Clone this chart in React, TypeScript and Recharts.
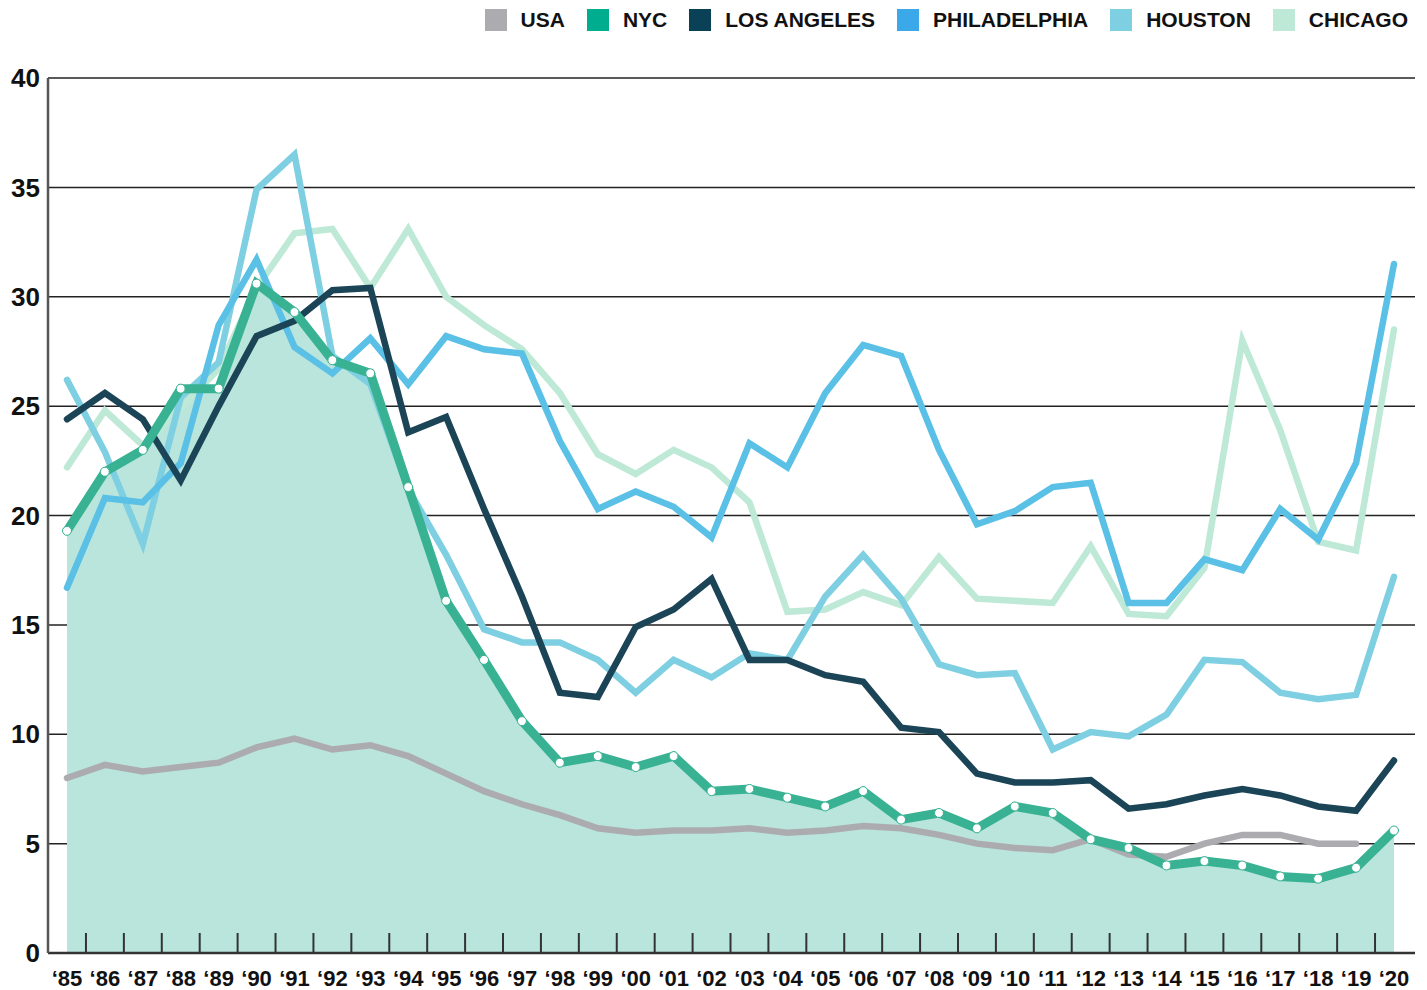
import {
  ComposedChart,
  Area,
  Line,
  XAxis,
  YAxis,
  CartesianGrid,
  Legend,
} from 'recharts';

const years = [
  '‘85', '‘86', '‘87', '‘88', '‘89', '‘90', '‘91', '‘92', '‘93', '‘94',
  '‘95', '‘96', '‘97', '‘98', '‘99', '‘00', '‘01', '‘02', '‘03', '‘04',
  '‘05', '‘06', '‘07', '‘08', '‘09', '‘10', '‘11', '‘12', '‘13', '‘14',
  '‘15', '‘16', '‘17', '‘18', '‘19', '‘20',
];

const usa = [
  8.0, 8.6, 8.3, 8.5, 8.7, 9.4, 9.8, 9.3, 9.5, 9.0,
  8.2, 7.4, 6.8, 6.3, 5.7, 5.5, 5.6, 5.6, 5.7, 5.5,
  5.6, 5.8, 5.7, 5.4, 5.0, 4.8, 4.7, 5.2, 4.5, 4.4,
  5.0, 5.4, 5.4, 5.0, 5.0, null,
];

const nyc = [
  19.3, 22.0, 23.0, 25.8, 25.8, 30.6, 29.3, 27.1, 26.5, 21.3,
  16.1, 13.4, 10.6, 8.7, 9.0, 8.5, 9.0, 7.4, 7.5, 7.1,
  6.7, 7.4, 6.1, 6.4, 5.7, 6.7, 6.4, 5.2, 4.8, 4.0,
  4.2, 4.0, 3.5, 3.4, 3.9, 5.6,
];

const losAngeles = [
  24.4, 25.6, 24.4, 21.6, 25.0, 28.2, 28.9, 30.3, 30.4, 23.8,
  24.5, 20.3, 16.3, 11.9, 11.7, 14.9, 15.7, 17.1, 13.4, 13.4,
  12.7, 12.4, 10.3, 10.1, 8.2, 7.8, 7.8, 7.9, 6.6, 6.8,
  7.2, 7.5, 7.2, 6.7, 6.5, 8.8,
];

const philadelphia = [
  16.7, 20.8, 20.6, 22.4, 28.7, 31.7, 27.7, 26.5, 28.1, 26.0,
  28.2, 27.6, 27.4, 23.4, 20.3, 21.1, 20.4, 19.0, 23.3, 22.2,
  25.6, 27.8, 27.3, 23.0, 19.6, 20.2, 21.3, 21.5, 16.0, 16.0,
  18.0, 17.5, 20.3, 18.9, 22.4, 31.5,
];

const houston = [
  26.2, 22.9, 18.7, 25.4, 27.0, 34.9, 36.5, 27.3, 26.0, 21.2,
  18.2, 14.8, 14.2, 14.2, 13.4, 11.9, 13.4, 12.6, 13.7, 13.4,
  16.3, 18.2, 16.2, 13.2, 12.7, 12.8, 9.3, 10.1, 9.9, 10.9,
  13.4, 13.3, 11.9, 11.6, 11.8, 17.2,
];

const chicago = [
  22.2, 24.8, 23.2, 24.9, 26.7, 30.4, 32.9, 33.1, 30.4, 33.1,
  30.0, 28.7, 27.6, 25.6, 22.8, 21.9, 23.0, 22.2, 20.6, 15.6,
  15.7, 16.5, 15.9, 18.1, 16.2, 16.1, 16.0, 18.6, 15.5, 15.4,
  17.6, 28.0, 23.9, 18.8, 18.4, 28.5,
];

const yTicks = [0, 5, 10, 15, 20, 25, 30, 35, 40];

const data = years.map((year, i) => ({
  year,
  usa: usa[i],
  nyc: nyc[i],
  losAngeles: losAngeles[i],
  philadelphia: philadelphia[i],
  houston: houston[i],
  chicago: chicago[i],
}));

const legendItems = [
  { label: 'USA', color: '#acacb0' },
  { label: 'NYC', color: '#00ae8f' },
  { label: 'LOS ANGELES', color: '#0a4156' },
  { label: 'PHILADELPHIA', color: '#3ba8ea' },
  { label: 'HOUSTON', color: '#7dcfe1' },
  { label: 'CHICAGO', color: '#bde9d6' },
];

const FONT = '"Liberation Sans", Arial, sans-serif';
const PAD_L = 19;
const PAD_R = 21;
const PLOT_W = 1367;
const STEP = (PLOT_W - PAD_L - PAD_R) / (years.length - 1);

const XTick = (props: any) => {
  const { x, y, payload, index } = props;
  return (
    <g>
      {index < years.length - 1 && (
        <line
          x1={x + STEP / 2}
          x2={x + STEP / 2}
          y1={y}
          y2={y - 20}
          stroke="#333"
          strokeWidth={2}
        />
      )}
      <text
        x={x}
        y={y + 33}
        textAnchor="middle"
        fill="#111"
        fontSize={22}
        fontWeight="bold"
        fontFamily={FONT}
      >
        {payload.value}
      </text>
    </g>
  );
};

const LegendContent = () => (
  <div style={{ display: 'flex', alignItems: 'center', fontFamily: FONT }}>
    {legendItems.map((item) => (
      <div
        key={item.label}
        style={{ display: 'flex', alignItems: 'center', marginLeft: 22 }}
      >
        <span
          style={{
            display: 'inline-block',
            width: 22,
            height: 22,
            background: item.color,
            marginRight: 14,
          }}
        />
        <span style={{ fontSize: 21, fontWeight: 'bold', color: '#111' }}>
          {item.label}
        </span>
      </div>
    ))}
  </div>
);

const App = () => {
  return (
    <ComposedChart
      width={1410}
      height={982}
      data={data}
      margin={{ top: 70, right: 3, bottom: 0, left: 0 }}
    >
      <Legend
        layout="vertical"
        align="center"
        verticalAlign="middle"
        content={<LegendContent />}
        wrapperStyle={{ top: 0, right: 10 }}
      />
      <Area
        dataKey="nyc"
        fill="#b9e5dc"
        fillOpacity={1}
        stroke="none"
        isAnimationActive={false}
        dot={false}
        activeDot={false}
      />
      <CartesianGrid vertical={false} stroke="#222" strokeWidth={1.5} />
      <XAxis
        dataKey="year"
        padding={{ left: PAD_L, right: PAD_R }}
        height={37}
        tickSize={0}
        tickMargin={0}
        tickLine={false}
        interval={0}
        axisLine={{ stroke: '#333', strokeWidth: 2.5 }}
        tick={<XTick />}
      />
      <YAxis
        domain={[0, 40]}
        ticks={yTicks}
        width={40}
        tickSize={0}
        tickMargin={8}
        tickLine={false}
        axisLine={{ stroke: '#555', strokeWidth: 2.5 }}
        tick={{ fill: '#111', fontSize: 26, fontWeight: 'bold', fontFamily: FONT }}
      />
      <YAxis
        yAxisId="right"
        orientation="right"
        width={0}
        tick={false}
        tickLine={false}
        axisLine={{ stroke: '#555', strokeWidth: 2.5 }}
      />
      <Line
        dataKey="chicago"
        stroke="#bde9d6"
        strokeWidth={6.5}
        strokeLinecap="round"
        dot={false}
        isAnimationActive={false}
      />
      <Line
        dataKey="houston"
        stroke="#7dcfe1"
        strokeWidth={6.5}
        strokeLinecap="round"
        dot={false}
        isAnimationActive={false}
      />
      <Line
        dataKey="philadelphia"
        stroke="#5ac0e6"
        strokeWidth={6.5}
        strokeLinecap="round"
        dot={false}
        isAnimationActive={false}
      />
      <Line
        dataKey="losAngeles"
        stroke="#1b4457"
        strokeWidth={6.5}
        strokeLinecap="round"
        dot={false}
        isAnimationActive={false}
      />
      <Line
        dataKey="usa"
        stroke="#acacb0"
        strokeWidth={6.5}
        strokeLinecap="round"
        dot={false}
        isAnimationActive={false}
      />
      <Line
        dataKey="nyc"
        stroke="#38b293"
        strokeWidth={9}
        strokeLinecap="round"
        dot={{ r: 4.5, fill: '#fff', stroke: '#38b293', strokeWidth: 1 }}
        activeDot={false}
        isAnimationActive={false}
      />
    </ComposedChart>
  );
};

export default App;
